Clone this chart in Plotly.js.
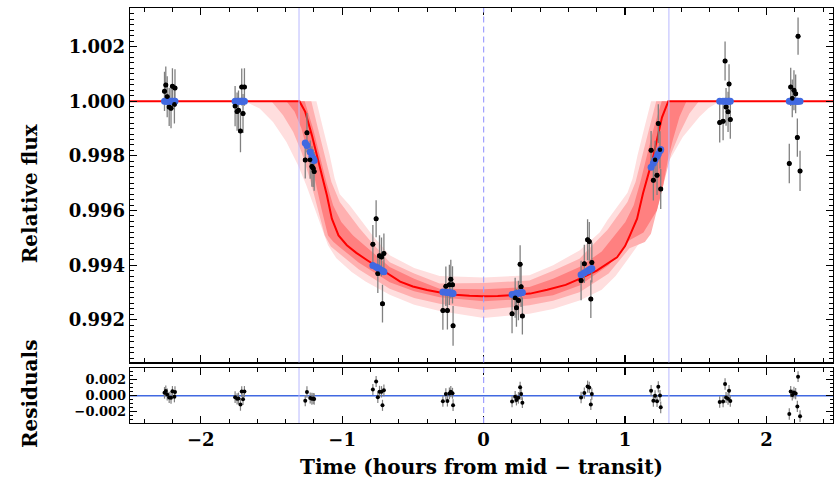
<!DOCTYPE html>
<html>
<head>
<meta charset="utf-8">
<script src="https://cdn.plot.ly/plotly-3.0.1.min.js"></script>
<style>html,body{margin:0;padding:0;background:#fff}#chart{width:835px;height:491px}</style>
</head>
<body>
<div id="chart"></div>
<script>
// ---- observations (time in hours from mid-transit, relative flux) ----
const obsTime = [
  -2.256,-2.247,-2.237,-2.223,-2.210,-2.200,-2.186,-2.182,
  -1.757,-1.743,-1.733,-1.719,-1.710,-1.701,-1.691,
  -1.261,-1.249,-1.226,-1.214,-1.205,-1.198,
  -0.783,-0.760,-0.748,-0.736,-0.722,-0.715,-0.705,
  -0.288,-0.267,-0.256,-0.242,-0.232,-0.220,-0.216,
  0.201,0.223,0.232,0.246,0.258,0.265,0.274,
  0.689,0.712,0.735,0.747,0.758,0.765,
  1.184,1.200,1.212,1.226,1.235,1.247,1.252,
  1.669,1.693,1.707,1.714,1.728,1.735,1.744,
  2.161,2.171,2.182,2.194,2.206,2.218,2.223,2.237
];
const obsFlux = [
  1.00036,1.00059,1.00016,0.99979,0.99974,1.00055,0.99989,1.00048,
  0.99982,0.99962,0.99967,0.99891,1.00052,0.99955,1.00052,
  0.99785,0.99885,0.99786,0.99761,0.99755,0.99743,
  0.99477,0.99570,0.99370,0.99435,0.99430,0.99259,0.99443,
  0.99234,0.99323,0.99234,0.99328,0.99349,0.99328,0.99178,
  0.99222,0.99281,0.99244,0.99271,0.99403,0.99321,0.99214,
  0.99344,0.99405,0.99493,0.99487,0.99276,0.99410,
  0.99821,0.99711,0.99786,0.99729,0.99918,0.99822,0.99679,
  0.99922,0.99927,1.00147,0.99979,0.99961,1.00063,0.99933,
  0.99772,1.00052,1.00010,1.00040,1.00027,0.99867,1.00238,0.99745
];
const obsErr = [
  0.00072,0.00068,0.00075,0.00070,0.00073,0.00066,0.00071,0.00069,
  0.00074,0.00070,0.00072,0.00078,0.00068,0.00071,0.00069,
  0.00068,0.00072,0.00070,0.00074,0.00069,0.00071,
  0.00070,0.00068,0.00072,0.00075,0.00071,0.00069,0.00073,
  0.00070,0.00072,0.00069,0.00074,0.00071,0.00068,0.00073,
  0.00071,0.00073,0.00069,0.00072,0.00070,0.00074,0.00068,
  0.00072,0.00070,0.00075,0.00071,0.00069,0.00073,
  0.00070,0.00074,0.00069,0.00072,0.00071,0.00068,0.00073,
  0.00073,0.00070,0.00071,0.00069,0.00074,0.00072,0.00070,
  0.00072,0.00070,0.00069,0.00073,0.00071,0.00070,0.00068,0.00074
];
// best-fit model evaluated at the observation times (blue)
const fitFlux = [
  1,1,1,1,1,1,1,1,
  1,1,1,1,1,1,1,
  0.99847,0.99838,0.99814,0.99798,0.99790,0.99783,
  0.99399,0.99393,0.99390,0.99386,0.99381,0.99379,0.99376,
  0.99302,0.99301,0.99300,0.99299,0.99298,0.99297,0.99296,
  0.99293,0.99295,0.99296,0.99297,0.99298,0.99299,0.99300,
  0.99365,0.99372,0.99379,0.99383,0.99386,0.99388,
  0.99758,0.99773,0.99785,0.99798,0.99807,0.99819,0.99823,
  1,1,1,1,1,1,1,
  1,1,1,1,1,1,1,1
];
const residual = obsFlux.map((f, i) => f - fitFlux[i]);

// ---- median model curve ----
const modelTime = [-2.6,-1.5,-1.302,-1.261,-1.214,-1.155,-1.108,-1.073,-1.045,-1.026,-0.967,-0.9,-0.823,-0.74,-0.661,-0.59,-0.5,-0.4,-0.307,-0.2,-0.1,0.0,0.1,0.2,0.329,0.45,0.58,0.682,0.8,0.943,1.0,1.035,1.057,1.085,1.127,1.198,1.261,1.306,1.5,2.6];
const modelFlux = [1.0,1.0,1.0,0.99961,0.99875,0.99753,0.99656,0.99570,0.99530,0.99509,0.99473,0.99445,0.99418,0.99390,0.99363,0.99340,0.99322,0.99309,0.99300,0.99292,0.99288,0.99286,0.99287,0.99290,0.99296,0.99310,0.99328,0.99351,0.99380,0.99429,0.99470,0.99510,0.99538,0.99570,0.99663,0.99795,0.99941,1.0,1.0,1.0];

// ---- credible bands (upper / lower edges) ----
const outerUpT = [-2.6,-1.182,-1.135,-1.088,-1.053,-1.017,-0.947,-0.876,-0.786,-0.664,-0.491,-0.311,0,0.324,0.491,0.678,0.820,0.876,0.947,1.017,1.053,1.088,1.135,1.184,2.6];
const outerUpF = [1,1,0.999,0.99802,0.99717,0.99660,0.99619,0.99570,0.9951,0.99436,0.9939,0.9936,0.99355,0.99363,0.994,0.99454,0.9952,0.99565,0.99615,0.99665,0.99717,0.99802,0.999,1,1];
const outerLoT = [-2.6,-1.689,-1.583,-1.489,-1.394,-1.312,-1.253,-1.194,-1.135,-1.100,-1.041,-0.933,-0.835,-0.664,-0.491,-0.311,0,0.324,0.491,0.678,0.835,0.933,1.031,1.061,1.100,1.139,1.196,1.255,1.314,1.408,1.526,1.591,1.669,2.6];
const outerLoF = [1,1,0.99973,0.99924,0.99851,0.99766,0.99692,0.99607,0.99521,0.99473,0.99425,0.99375,0.9934,0.99292,0.99255,0.99232,0.99207,0.99222,0.9924,0.99271,0.9931,0.9936,0.9943,0.9945,0.9948,0.99525,0.996,0.99686,0.99784,0.99869,0.99943,0.99975,1,1];

const midUpT = [-2.6,-1.218,-1.171,-1.123,-1.076,-1.017,-0.947,-0.876,-0.786,-0.664,-0.491,-0.311,0,0.324,0.491,0.678,0.876,0.947,1.017,1.074,1.121,1.169,1.220,2.6];
const midUpF = [1,1,0.999,0.99802,0.99704,0.99631,0.99582,0.99534,0.9948,0.99411,0.9937,0.99333,0.99335,0.99344,0.9938,0.99424,0.9953,0.9958,0.99631,0.99704,0.99802,0.999,1,1];
const midLoT = [-2.6,-1.500,-1.418,-1.347,-1.288,-1.229,-1.171,-1.123,-1.080,-1.017,-0.884,-0.664,-0.491,-0.311,0,0.324,0.491,0.678,0.884,1.031,1.140,1.183,1.231,1.279,1.326,1.385,1.455,1.522,2.6];
const midLoF = [1,1,0.99949,0.99888,0.99814,0.99717,0.99607,0.99509,0.99468,0.9944,0.99385,0.99314,0.9928,0.99259,0.99236,0.99253,0.9927,0.99301,0.9937,0.99462,0.99485,0.99515,0.99613,0.99711,0.99808,0.99882,0.99955,1,1];

const innerUpT = [-2.6,-1.265,-1.206,-1.159,-1.112,-1.064,-1.006,-0.923,-0.835,-0.664,-0.491,-0.311,0,0.324,0.491,0.678,0.835,0.923,1.002,1.061,1.108,1.155,1.202,1.259,2.6];
const innerUpF = [1,1,0.999,0.99802,0.99704,0.99619,0.99558,0.99509,0.9947,0.99393,0.9935,0.99314,0.99312,0.9932,0.9935,0.99393,0.9945,0.99505,0.99558,0.99619,0.99704,0.99802,0.999,1,1];
const innerLoT = [-2.6,-1.394,-1.336,-1.288,-1.241,-1.194,-1.147,-1.100,-1.061,-1.017,-0.884,-0.664,-0.491,-0.311,0,0.324,0.491,0.678,0.884,1.031,1.13,1.179,1.225,1.267,1.302,1.337,1.385,1.434,2.6];
const innerLoF = [1,1,0.99961,0.999,0.99814,0.99717,0.99607,0.99509,0.99485,0.99466,0.9941,0.99338,0.99305,0.99283,0.99268,0.99277,0.9929,0.99326,0.994,0.99491,0.9952,0.9956,0.996,0.99686,0.99784,0.99857,0.99943,1,1];

const contactTimes = [-1.305, 1.31];
const midTime = [0];

const fontFam = 'DejaVu Serif';
function band(upT, upF, loT, loF, color) {
  return {
    x: upT.concat(loT.slice().reverse()),
    y: upF.concat(loF.slice().reverse()),
    xaxis: 'x', yaxis: 'y', mode: 'lines', fill: 'toself',
    fillcolor: color, line: {width: 0}, hoverinfo: 'skip', showlegend: false
  };
}

const traces = [
  band(outerUpT, outerUpF, outerLoT, outerLoF, 'rgb(255,222,222)'),
  band(midUpT, midUpF, midLoT, midLoF, 'rgb(255,176,176)'),
  band(innerUpT, innerUpF, innerLoT, innerLoF, 'rgb(255,128,128)'),
  {x: modelTime, y: modelFlux, xaxis: 'x', yaxis: 'y', mode: 'lines',
   line: {color: 'rgb(255,0,0)', width: 2}, showlegend: false},
  {x: obsTime, y: obsFlux, xaxis: 'x', yaxis: 'y', mode: 'markers',
   marker: {color: 'black', size: 5},
   error_y: {type: 'data', array: obsErr, color: 'rgb(128,128,128)', thickness: 1.3, width: 0},
   showlegend: false},
  {x: obsTime, y: fitFlux, xaxis: 'x', yaxis: 'y', mode: 'markers',
   marker: {color: 'rgb(65,105,225)', size: 7}, showlegend: false},
  {x: obsTime, y: obsFlux, xaxis: 'x', yaxis: 'y', mode: 'markers',
   marker: {color: 'black', size: 4.5}, showlegend: false},
  {x: obsTime, y: residual, xaxis: 'x2', yaxis: 'y2', mode: 'markers',
   marker: {color: 'black', size: 4},
   error_y: {type: 'data', array: obsErr, color: 'rgb(128,128,128)', thickness: 1.2, width: 0},
   showlegend: false}
];

const shapes = [];
[['x', 'y'], ['x2', 'y2']].forEach(([xa, ya]) => {
  contactTimes.forEach(t => shapes.push({type: 'line', xref: xa, yref: ya + ' domain', x0: t, x1: t, y0: 0, y1: 1,
    line: {color: 'rgb(185,185,255)', width: 1}, layer: 'above'}));
  midTime.forEach(t => shapes.push({type: 'line', xref: xa, yref: ya + ' domain', x0: t, x1: t, y0: 0, y1: 1,
    line: {color: 'rgb(160,160,255)', width: 1.2, dash: '6px,4px'}, layer: 'above'}));
});
shapes.push({type: 'line', xref: 'x2 domain', yref: 'y2', x0: 0, x1: 1, y0: 0, y1: 0,
  line: {color: 'rgb(65,105,225)', width: 1.5}, layer: 'below'});

const tickFont = {family: fontFam, size: 18, color: 'black', weight: 'bold'};
const axBase = {
  showline: true, linecolor: 'black', linewidth: 1.3, mirror: 'allticks',
  ticks: 'inside', ticklen: 7, tickwidth: 1.2, tickcolor: 'black',
  showgrid: false, zeroline: false, tickfont: tickFont
};
const xRange = [-2.5, 2.47];

const layout = {
  width: 835, height: 491,
  margin: {l: 130, r: 2, t: 8, b: 68},
  paper_bgcolor: 'white', plot_bgcolor: 'white',
  showlegend: false,
  xaxis: Object.assign({}, axBase, {domain: [0, 1], anchor: 'y', range: xRange, dtick: 1, tick0: 0,
    showticklabels: false, minor: {dtick: 0.2, tick0: 0, ticks: 'inside', ticklen: 4, tickcolor: 'black', tickwidth: 1}}),
  yaxis: Object.assign({}, axBase, {domain: [0.1458, 1], anchor: 'x', range: [0.99044, 1.00341],
    tickvals: [0.992, 0.994, 0.996, 0.998, 1.000, 1.002], tickformat: '.3f',
    minor: {dtick: 0.0002, tick0: 0.99, ticks: 'inside', ticklen: 4, tickcolor: 'black', tickwidth: 1}}),
  xaxis2: Object.assign({}, axBase, {domain: [0, 1], anchor: 'y2', range: xRange, dtick: 1, tick0: 0,
    minor: {dtick: 0.2, tick0: 0, ticks: 'inside', ticklen: 4, tickcolor: 'black', tickwidth: 1}}),
  yaxis2: Object.assign({}, axBase, {domain: [0, 0.1325], anchor: 'x2', range: [-0.0034, 0.00346],
    tickvals: [-0.002, 0, 0.002], tickformat: '.3f',
    tickfont: {family: fontFam, size: 13, color: 'black', weight: 'bold'},
    minor: {dtick: 0.0005, tick0: 0, ticks: 'inside', ticklen: 3, tickcolor: 'black', tickwidth: 1}}),
  shapes: shapes,
  annotations: [
    {text: 'Time (hours from mid \u2212 transit)', xref: 'paper', yref: 'paper', x: 0.5, y: -0.106,
     xanchor: 'center', yanchor: 'middle', showarrow: false,
     font: {family: fontFam, size: 20, color: 'black', weight: 'bold'}},
    {text: 'Relative flux', xref: 'paper', yref: 'paper', x: -0.142, y: 0.554, textangle: -90,
     xanchor: 'center', yanchor: 'middle', showarrow: false,
     font: {family: fontFam, size: 20, color: 'black', weight: 'bold'}},
    {text: 'Residuals', xref: 'paper', yref: 'paper', x: -0.142, y: 0.070, textangle: -90,
     xanchor: 'center', yanchor: 'middle', showarrow: false,
     font: {family: fontFam, size: 20, color: 'black', weight: 'bold'}}
  ]
};

Plotly.newPlot('chart', traces, layout, {displayModeBar: false, staticPlot: true});
</script>
</body>
</html>
